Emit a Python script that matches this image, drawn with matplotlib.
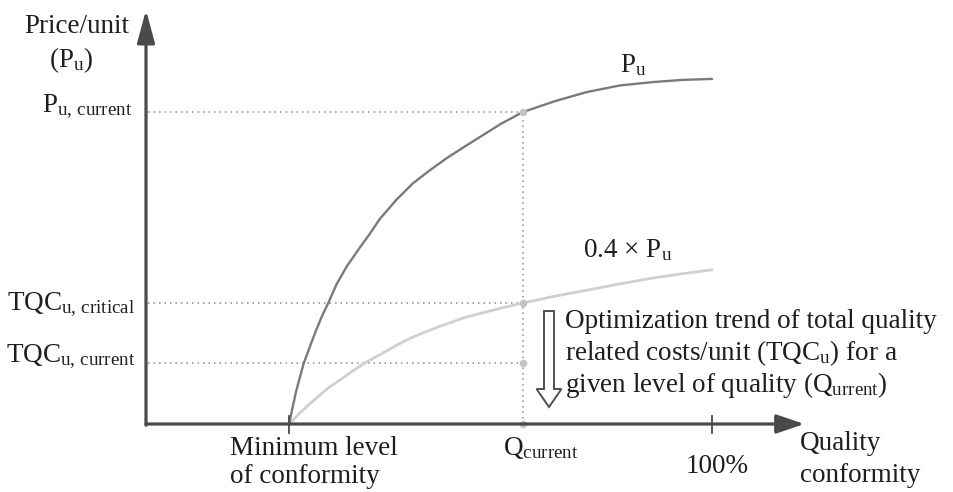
import matplotlib
matplotlib.use("Agg")
import matplotlib.pyplot as plt
from matplotlib.patches import FancyArrowPatch, FancyArrow

plt.rcParams['font.family'] = ['Liberation Serif', 'DejaVu Serif']
plt.rcParams['mathtext.fontset'] = 'custom'
plt.rcParams['mathtext.rm'] = 'Liberation Serif'
plt.rcParams['mathtext.it'] = 'Liberation Serif:italic'
plt.rcParams['mathtext.bf'] = 'Liberation Serif:bold'

# ---- data (quality conformity in %, price relative to P_u,current) ----
pu_q = [25.3, 25.8, 26.5, 27.2, 27.9, 29.0, 30.0, 31.1, 32.2, 33.7, 35.5, 37.6, 39.4, 41.3,
        44.2, 47.2, 50.2, 53.2, 56.2, 59.0, 62.7, 66.6, 72.3, 77.9, 83.7, 89.6, 94.9, 100.0]
pu_v = [0.0, 0.045, 0.103, 0.151, 0.196, 0.250, 0.298, 0.346, 0.388, 0.449, 0.506, 0.561, 0.606, 0.657,
        0.718, 0.772, 0.814, 0.853, 0.888, 0.920, 0.962, 1.0, 1.035, 1.064, 1.085, 1.096, 1.103, 1.106]
low_q = [25.3, 27.0, 28.8, 30.6, 32.3, 34.5, 36.6, 38.7, 41.5, 44.3, 47.2, 51.6, 56.1, 61.3,
         66.6, 72.3, 77.9, 83.7, 89.6, 94.9, 100.0]
low_v = [0.0, 0.032, 0.0625, 0.091, 0.117, 0.144, 0.171, 0.196, 0.224, 0.253, 0.279, 0.311, 0.340, 0.365,
         0.388, 0.410, 0.429, 0.449, 0.468, 0.482, 0.494]

q_min = 25.3
q_current = 66.6
q_full = 100.0
pu_current = 1.0
tqc_critical = 0.388
tqc_current = 0.196
x_axis_end = 116.3
y_axis_end = 1.327

# ---- pixel helpers for layout ----
X0, SX, Y0, SY = 146.0, 5.66, 424.0, 312.0
def X(px): return (px - X0) / SX
def Y(py): return (Y0 - py) / SY

fig = plt.figure(figsize=(9.54, 4.92), dpi=100)
ax = fig.add_axes([0, 0, 1, 1])
ax.set_xlim(X(0), X(954))
ax.set_ylim(Y(492), Y(0))
ax.axis('off')

axis_col = '#4a4a4a'
dot_col = '#8a8a8a'
txt_col = '#1e1e1e'

# dotted guide lines
for v in [pu_current, tqc_critical, tqc_current]:
    ax.plot([X(148), q_current], [v, v], color=dot_col, lw=1.1, ls=(0, (1, 2.6)), zorder=1)
ax.plot([q_current, q_current], [0, pu_current], color=dot_col, lw=1.1, ls=(0, (1, 2.6)), zorder=1)

# curves
ax.plot(pu_q, pu_v, color='#7a7a7a', lw=1.7, solid_capstyle='round', solid_joinstyle='round', zorder=3)
ax.plot(low_q, low_v, color='#d0d0d0', lw=2.0, solid_capstyle='round', solid_joinstyle='round', zorder=2)

# marker dots
ax.scatter([q_current] * 4, [pu_current, tqc_critical, tqc_current, 0],
           s=30, color='#c4c4c4', zorder=4, linewidths=0)

# axes with arrows
ax.add_patch(FancyArrowPatch((0, -0.004), (0, y_axis_end), arrowstyle='-|>,head_length=20,head_width=5.4',
                             mutation_scale=1, lw=2.3, color=axis_col, shrinkA=0, shrinkB=0, zorder=5))
ax.add_patch(FancyArrowPatch((0, 0), (x_axis_end, 0), arrowstyle='-|>,head_length=17,head_width=5.8',
                             mutation_scale=1, lw=2.3, color=axis_col, shrinkA=0, shrinkB=0, zorder=5))

# ticks
for q in [q_min, q_full]:
    ax.plot([q, q], [-0.029, 0.026], color=axis_col, lw=1.3, zorder=5)

# hollow downward arrow
ax.add_patch(FancyArrow(X(549), Y(311), 0, Y(407) - Y(311), width=10 / SX, head_width=25 / SX,
                        head_length=(407 - 389) / SY, length_includes_head=True,
                        facecolor='white', edgecolor='#505050', lw=1.4, zorder=5))

fs = 19.5
def t(px, py, s, ha='left', **kw):
    ax.text(X(px), Y(py), s, ha=ha, va='baseline', fontsize=fs, color=txt_col, **kw)

t(77, 33, 'Price/unit', ha='center')
t(71, 67, r'(P$_{\mathrm{u}}$)', ha='center')
t(132, 112, r'P$_{\mathrm{u,\,current}}$', ha='right')
t(135, 310, r'TQC$_{\mathrm{u,\,critical}}$', ha='right')
t(135, 362, r'TQC$_{\mathrm{u,\,current}}$', ha='right')
t(230, 455, 'Minimum level')
t(230, 483, 'of conformity')
t(503, 455, r'Q$_{\mathrm{current}}$')
t(717, 473, '100%', ha='center')
t(800, 450, 'Quality')
t(800, 482, 'conformity')
t(620, 72, r'P$_{\mathrm{u}}$')
t(583, 257, r'0.4 × P$_{\mathrm{u}}$')
t(565, 328, 'Optimization trend of total quality')
t(565, 360, r'related costs/unit (TQC$_{\mathrm{u}}$) for a')
t(565, 392, r'given level of quality (Q$_{\mathrm{urrent}}$)')

fig.savefig('out.png', dpi=100, facecolor='white')
